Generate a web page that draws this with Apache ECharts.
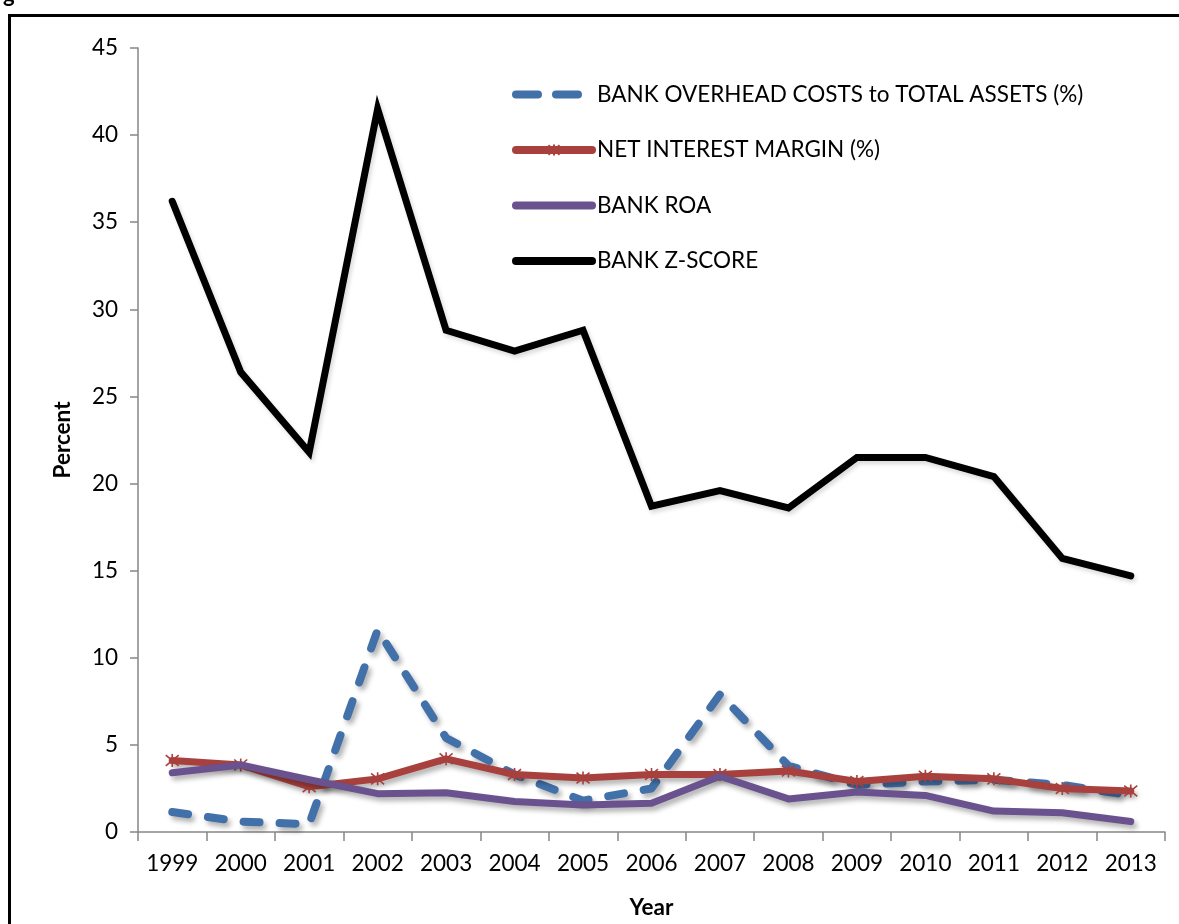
<!DOCTYPE html>
<html><head><meta charset="utf-8">
<script src="https://cdn.jsdelivr.net/npm/echarts@6/dist/echarts.min.js"></script>
<style>html,body{margin:0;padding:0;background:#fff}#c{width:1179px;height:924px}</style>
</head><body><div id="c"></div>
<script>
const years = ['1999','2000','2001','2002','2003','2004','2005','2006','2007','2008','2009','2010','2011','2012','2013'];
const seriesNames = ['BANK OVERHEAD COSTS to TOTAL ASSETS (%)','NET INTEREST MARGIN (%)','BANK ROA','BANK Z-SCORE'];
const overhead = [1.15, 0.6, 0.45, 11.6, 5.4, 3.3, 1.8, 2.5, 7.9, 3.8, 2.7, 2.9, 3.0, 2.7, 2.1];
const nim      = [4.1, 3.85, 2.6, 3.05, 4.2, 3.3, 3.1, 3.3, 3.3, 3.5, 2.9, 3.2, 3.05, 2.5, 2.35];
const roa      = [3.4, 3.85, 3.0, 2.2, 2.25, 1.75, 1.55, 1.65, 3.2, 1.9, 2.3, 2.1, 1.2, 1.1, 0.6];
const zscore   = [36.2, 26.4, 21.8, 41.5, 28.8, 27.6, 28.8, 18.7, 19.6, 18.6, 21.5, 21.5, 20.4, 15.7, 14.7];
const yMin = 0, yMax = 45, yStep = 5;

const FONT = 'Lato';
const BLUE = '#4271AA', RED = '#A8403D', PURPLE = '#6A528F';
const chart = echarts.init(document.getElementById('c'), null, {renderer: 'canvas'});
const shadow = {shadowColor: 'rgba(0,0,0,0.3)', shadowBlur: 5, shadowOffsetX: 3, shadowOffsetY: 4};
const noSym = {opacity: 0};
chart.setOption({
  animation: false,
  backgroundColor: '#fff',
  textStyle: {fontFamily: FONT, color: '#000'},
  grid: {left: 138, right: 14, top: 48, bottom: 90, containLabel: false},
  legend: {
    orient: 'vertical', left: 507, top: 78, itemWidth: 76, itemHeight: 14, itemGap: 32.5,
    textStyle: {fontFamily: FONT, fontSize: 22.5, color: '#000'},
    lineStyle: {width: 8, cap: 'round', shadowBlur: 0, shadowOffsetX: 0, shadowOffsetY: 0},
    data: [
      {name: seriesNames[0], itemStyle: noSym, lineStyle: {type: [22, 18], cap: 'round', width: 8}},
      {name: seriesNames[1]},
      {name: seriesNames[2], itemStyle: noSym},
      {name: seriesNames[3], itemStyle: noSym}
    ]
  },
  xAxis: {
    type: 'category', data: years, boundaryGap: true,
    name: 'Year', nameLocation: 'middle', nameGap: 64,
    nameTextStyle: {fontFamily: FONT, fontSize: 22.5, fontWeight: 'bold', color: '#000'},
    axisLine: {lineStyle: {color: '#868686', width: 1.5}},
    axisTick: {show: true, length: 9, alignWithLabel: false, lineStyle: {color: '#868686', width: 1.5}},
    axisLabel: {fontFamily: FONT, fontSize: 22.5, color: '#000', margin: 20, interval: 0}
  },
  yAxis: {
    type: 'value', min: yMin, max: yMax, interval: yStep,
    name: 'Percent', nameLocation: 'middle', nameGap: 64, nameRotate: 90,
    nameTextStyle: {fontFamily: FONT, fontSize: 22.5, fontWeight: 'bold', color: '#000'},
    axisLine: {show: true, lineStyle: {color: '#868686', width: 1.5}},
    axisTick: {show: true, length: 8, lineStyle: {color: '#868686', width: 1.5}},
    axisLabel: {fontFamily: FONT, fontSize: 22.5, color: '#000', margin: 20},
    splitLine: {show: false}
  },
  graphic: [
    {type: 'rect', shape: {x: 9.5, y: 15.5, width: 1300, height: 1100}, style: {fill: 'none', stroke: '#000', lineWidth: 3}, silent: true, z: 100},
    {type: 'text', left: 3, top: -16, style: {text: 'g', font: 'bold 22px Lato', fill: '#000'}, silent: true}
  ],
  series: [
    {name: seriesNames[0], type: 'line', data: overhead, symbol: 'none', z: 2,
     lineStyle: Object.assign({color: BLUE, width: 8, type: [16, 20], cap: 'round', join: 'round'}, shadow),
     itemStyle: {color: BLUE}},
    {name: seriesNames[1], type: 'line', data: nim, z: 3,
     symbol: 'path://M0,0L10,10M10,0L0,10M5,-1L5,11', symbolSize: 13, showSymbol: true,
     itemStyle: {color: RED, borderColor: RED, borderWidth: 1.6},
     lineStyle: Object.assign({color: RED, width: 7, cap: 'round', join: 'round'}, shadow)},
    {name: seriesNames[2], type: 'line', data: roa, symbol: 'none', z: 4,
     lineStyle: Object.assign({color: PURPLE, width: 7, cap: 'round', join: 'round'}, shadow),
     itemStyle: {color: PURPLE}},
    {name: seriesNames[3], type: 'line', data: zscore, symbol: 'none', z: 5,
     lineStyle: {color: '#000', width: 7, cap: 'round', join: 'miter', shadowColor: 'rgba(0,0,0,0.15)', shadowBlur: 4, shadowOffsetX: 2, shadowOffsetY: 3},
     itemStyle: {color: '#000'}}
  ]
});
</script></body></html>
